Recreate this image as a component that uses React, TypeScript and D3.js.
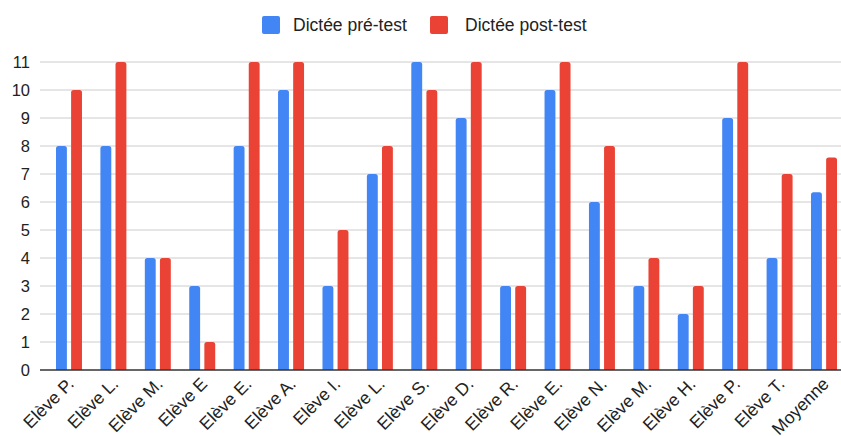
import React from 'react';
import { scaleBand, scaleLinear, range } from 'd3';

const students = [
  'Elève P.', 'Elève L.', 'Elève M.', 'Elève E', 'Elève E.', 'Elève A.', 'Elève I.', 'Elève L.',
  'Elève S.', 'Elève D.', 'Elève R.', 'Elève E.', 'Elève N.', 'Elève M.', 'Elève H.', 'Elève P.',
  'Elève T.', 'Moyenne',
];
const preTest = [8, 8, 4, 3, 8, 10, 3, 7, 11, 9, 3, 10, 6, 3, 2, 9, 4, 6.35];
const postTest = [10, 11, 4, 1, 11, 11, 5, 8, 10, 11, 3, 11, 8, 4, 3, 11, 7, 7.59];
const seriesNames = ['Dictée pré-test', 'Dictée post-test'];
const colors = ['#4285F4', '#EA4335'];
const yTicks = range(0, 12);

const width = 841;
const height = 436;
const font = '"Liberation Sans", Arial, sans-serif';

const App = () => {
  const left = 40;
  const x = scaleBand<number>()
    .domain(students.map((_, i) => i))
    .range([56, 837])
    .paddingInner(0.415)
    .paddingOuter(0);
  const inner = scaleBand<number>().domain([0, 1]).range([0, x.bandwidth()]).paddingInner(0.28);
  const y = scaleLinear().domain([0, 11]).range([370, 62]);

  const bar = (cx: number, v: number, color: string, key: string) => {
    const w = inner.bandwidth();
    const top = y(v);
    const h = y(0) - top;
    const r = Math.min(2.5, h);
    const d = `M${cx},${y(0)} V${top + r} Q${cx},${top} ${cx + r},${top} H${cx + w - r} Q${cx + w},${top} ${cx + w},${top + r} V${y(0)} Z`;
    return <path key={key} d={d} fill={color} />;
  };

  return (
    <svg width={width} height={height} style={{ position: 'absolute', left: 0, top: 0 }}>
      <rect width={width} height={height} fill="#fff" />
      {/* legend */}
      <g fontFamily={font} fontSize={17.5} fill="#222">
        <rect x={262} y={16} width={18} height={18} rx={2} fill={colors[0]} />
        <text x={293} y={31}>{seriesNames[0]}</text>
        <rect x={430} y={16} width={18} height={18} rx={2} fill={colors[1]} />
        <text x={465} y={31}>{seriesNames[1]}</text>
      </g>
      {/* grid */}
      {yTicks.map(t => (
        <g key={t}>
          {t > 0 && <line x1={left} x2={width} y1={y(t)} y2={y(t)} stroke="#ccc" strokeWidth={1} />}
          <text x={30} y={y(t) + 6} textAnchor="end" fontFamily={font} fontSize={16.5} fill="#222">{t}</text>
        </g>
      ))}
      {/* bars */}
      {students.map((_, i) => {
        const x0 = x(i)!;
        return (
          <g key={i}>
            {bar(x0 + inner(0)!, preTest[i], colors[0], 'a')}
            {bar(x0 + inner(1)!, postTest[i], colors[1], 'b')}
          </g>
        );
      })}
      <line x1={left} x2={width} y1={y(0)} y2={y(0)} stroke="#333" strokeWidth={1.5} />
      {/* x labels */}
      {students.map((s, i) => {
        const cx = x(i)! + x.bandwidth() / 2 + 6;
        const cy = 385;
        return (
          <text key={i} transform={`translate(${cx},${cy}) rotate(-45)`} textAnchor="end"
            fontFamily={font} fontSize={17.5} fill="#222">{s}</text>
        );
      })}
    </svg>
  );
};

export default App;
